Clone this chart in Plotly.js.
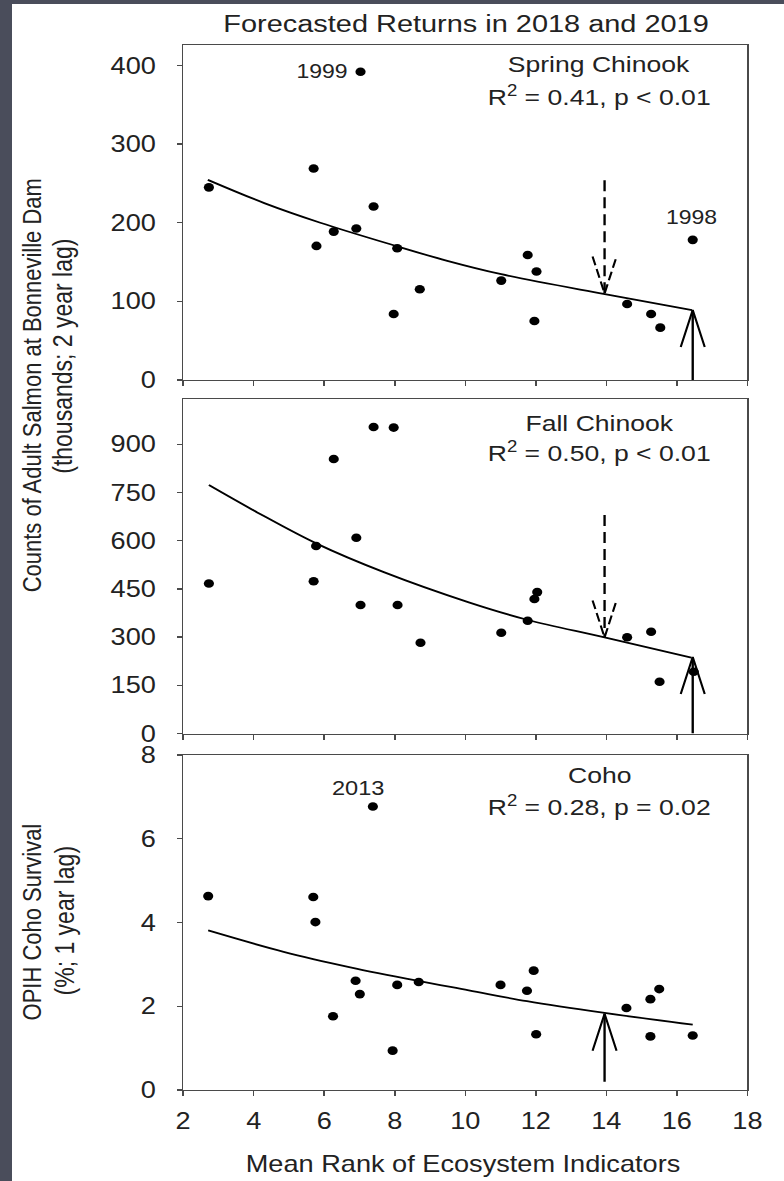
<!DOCTYPE html>
<html><head><meta charset="utf-8">
<script src="https://cdn.plot.ly/plotly-3.0.1.min.js"></script>
<style>
html,body{margin:0;padding:0;background:#4a4d5b;width:784px;height:1181px;overflow:hidden;}
#wrap{position:absolute;left:12px;top:4px;width:772px;height:1177px;background:#fff;overflow:hidden;}
#chart{position:absolute;left:0;top:0;width:654px;height:1177px;transform:scaleX(1.1804);transform-origin:0 0;}
</style></head>
<body><div id="wrap"><div id="chart"></div></div>
<script>
// ---------------- data ----------------
const springX = [2.73,5.70,5.78,6.27,6.91,7.03,7.40,7.97,8.07,8.71,11.02,11.77,11.96,12.02,14.59,15.27,15.53,16.45];
const springY = [245,269,170.5,188.7,192.6,392,220.6,84,167.6,115.4,126.4,159,75,137.9,96.7,84,66.6,178.2];
const springFitX = [2.70,4.30,5.89,8.07,9.49,11.02,13.92,16.43];
const springFitY = [254.5,225,200,170,151.5,134.5,109.5,89];

const fallX = [2.73,5.70,5.77,6.27,6.91,7.03,7.40,7.97,8.08,8.73,11.02,11.77,11.96,12.04,14.59,15.27,15.51,16.48];
const fallY = [467,473.6,583.5,854,609,400,954,952,400,282.6,313.7,351,418.6,440,299.4,316.8,161.2,192.3];
const fallFitX = [2.73,4.10,5.80,7.69,10.10,11.75,13.95,16.41];
const fallFitY = [773,688,590,502,408,354,299,236];

const cohoX = [2.71,5.69,5.75,6.25,6.89,7.01,7.38,7.94,8.07,8.68,11.00,11.75,11.94,12.01,14.57,15.25,15.25,15.50,16.45];
const cohoY = [4.63,4.61,4.01,1.76,2.61,2.29,6.77,0.94,2.51,2.58,2.51,2.37,2.85,1.33,1.96,2.17,1.28,2.41,1.30];
const cohoFitX = [2.71,4.85,6.74,8.63,10.10,11.75,13.95,16.45];
const cohoFitY = [3.81,3.30,2.93,2.61,2.38,2.12,1.84,1.56];

// forecast arrows: mean rank of the indicator year, arrow tail and tip values
const springArrowX = [16.45, 13.95];
const springArrowTail = [0, 254];
const springArrowTip = [89, 110];
const fallArrowX = [16.45, 13.95];
const fallArrowTail = [0, 680];
const fallArrowTip = [238, 299];
const cohoArrowX = [13.95];
const cohoArrowTail = [0.2];
const cohoArrowTip = [1.82];
const arrowDashed = [false, true];

const xTicks = [2,4,6,8,10,12,14,16,18];
const springTicks = [0,100,200,300,400];
const fallTicks = [0,150,300,450,600,750,900];
const cohoTicks = [0,2,4,6,8];

// ---------------- geometry ----------------
const K = 1.1804;               // horizontal stretch of the reference
const W = 654, H = 1177;
const ML = 144.6, MR = 31.3, MT = 41, MB = 91;
const PW = W - ML - MR, PH = H - MT - MB;
const BOT = H - MB;
function fx(ximg){ return ((ximg - 12) / K - ML) / PW; }
function fy(yimg){ return (BOT - (yimg - 4)) / PH; }

const dom3 = [(BOT-376)/PH, 1];          // spring
const dom2 = [(BOT-729.5)/PH, (BOT-395.3)/PH]; // fall
const dom1 = [0, (BOT-751)/PH];          // coho
const rSpring = [0,426], rFall = [0,1040], rCoho = [0,8];

const FONT = '"Liberation Sans", Arial, sans-serif';
const INK = '#222';
const LINE = '#4a4a4a';

const xPxPerUnit = PW * K / 16;     // image px per x unit
function yPxPerUnit(dom, r){ return (dom[1]-dom[0]) * PH / (r[1]-r[0]); }

const traces = [];
function addPanel(xs, ys, fxs, fys, xa, ya){
  traces.push({x: xs, y: ys, xaxis: xa, yaxis: ya, type: 'scatter', mode: 'markers',
    marker: {color: '#000', size: 8.6}, cliponaxis: false, hoverinfo: 'skip'});
  traces.push({x: fxs, y: fys, xaxis: xa, yaxis: ya, type: 'scatter', mode: 'lines',
    line: {color: '#000', width: 1.8, shape: 'spline', smoothing: 1}, hoverinfo: 'skip'});
}
function addArrows(ax, tails, tips, xa, ya, dom, r){
  const dxu = 12 / xPxPerUnit;
  const dyu = 37 / yPxPerUnit(dom, r);
  ax.forEach((xv, i) => {
    const dash = arrowDashed[i] ? '11px,6px' : 'solid';
    const s = Math.sign(tails[i] - tips[i]);
    traces.push({x: [xv, xv], y: [tails[i], tips[i]], xaxis: xa, yaxis: ya, type: 'scatter',
      mode: 'lines', line: {color: '#000', width: 2, dash: dash}, hoverinfo: 'skip'});
    traces.push({x: [xv - dxu, xv, xv + dxu], y: [tips[i] + s*dyu, tips[i], tips[i] + s*dyu],
      xaxis: xa, yaxis: ya, type: 'scatter', mode: 'lines',
      line: {color: '#000', width: 1.8, dash: arrowDashed[i] ? '9px,4px' : 'solid'}, hoverinfo: 'skip'});
  });
}

addPanel(springX, springY, springFitX, springFitY, 'x3', 'y3');
addPanel(fallX, fallY, fallFitX, fallFitY, 'x2', 'y2');
addPanel(cohoX, cohoY, cohoFitX, cohoFitY, 'x', 'y');
addArrows(springArrowX, springArrowTail, springArrowTip, 'x3', 'y3', dom3, rSpring);
addArrows(fallArrowX, fallArrowTail, fallArrowTip, 'x2', 'y2', dom2, rFall);
addArrows(cohoArrowX, cohoArrowTail, cohoArrowTip, 'x', 'y', dom1, rCoho);

function xAxis(anchor, labels){
  return {domain: [0,1], range: [2,18], anchor: anchor, tickvals: xTicks, ticktext: xTicks.map(String),
    showticklabels: labels, ticks: 'outside', ticklen: 5, tickwidth: 1.3, tickcolor: LINE,
    showline: true, mirror: true, linecolor: LINE, linewidth: 1.3, showgrid: false, zeroline: false,
    tickfont: {family: FONT, size: 23, color: INK}, ticklabelstandoff: 5, fixedrange: true};
}
function yAxis(anchor, dom, r, ticks){
  return {domain: dom, range: r, anchor: anchor, tickvals: ticks, ticktext: ticks.map(String),
    ticks: 'outside', ticklen: 4.2, tickwidth: 1.3, tickcolor: LINE,
    showline: true, mirror: true, linecolor: LINE, linewidth: 1.3, showgrid: false, zeroline: false,
    tickfont: {family: FONT, size: 23, color: INK}, ticklabelstandoff: 13, fixedrange: true};
}

function ann(text, ximg, yimg, size, extra){
  return Object.assign({text: text, xref: 'paper', yref: 'paper', x: fx(ximg), y: fy(yimg),
    xanchor: 'center', yanchor: 'middle', showarrow: false,
    font: {family: FONT, size: size, color: INK}}, extra || {});
}

const annotations = [
  ann('Forecasted Returns in 2018 and 2019', 466, 24, 24.5),
  ann('Spring Chinook', 599, 64, 22.5),
  ann('R<sup>2</sup> = 0.41, p &lt; 0.01', 599, 96, 22.5),
  ann('1999', 321.7, 70.5, 19.5),
  ann('1998', 691.3, 217, 19.5),
  ann('Fall Chinook', 599, 423, 22.5),
  ann('R<sup>2</sup> = 0.50, p &lt; 0.01', 598.5, 452, 22.5),
  ann('Coho', 599, 775.5, 22.5),
  ann('R<sup>2</sup> = 0.28, p = 0.02', 599, 806, 22.5),
  ann('2013', 358, 788, 20),
  ann('Mean Rank of Ecosystem Indicators', 462, 1164, 23),
  ann('Counts of Adult Salmon at Bonneville Dam', 31, 385, 22, {textangle: -90}),
  ann('(thousands; 2 year lag)', 62, 356, 23, {textangle: -90}),
  ann('OPIH Coho Survival', 31, 922, 22, {textangle: -90}),
  ann('(%; 1 year lag)', 64, 920, 23, {textangle: -90})
];

const layout = {
  width: W, height: H,
  margin: {l: ML, r: MR, t: MT, b: MB, pad: 0},
  paper_bgcolor: '#fff', plot_bgcolor: '#fff',
  showlegend: false,
  xaxis: xAxis('y', true),
  xaxis2: xAxis('y2', false),
  xaxis3: xAxis('y3', false),
  yaxis: yAxis('x', dom1, rCoho, cohoTicks),
  yaxis2: yAxis('x2', dom2, rFall, fallTicks),
  yaxis3: yAxis('x3', dom3, rSpring, springTicks),
  annotations: annotations
};

Plotly.newPlot('chart', traces, layout, {staticPlot: true, displayModeBar: false});
</script>
</body></html>
